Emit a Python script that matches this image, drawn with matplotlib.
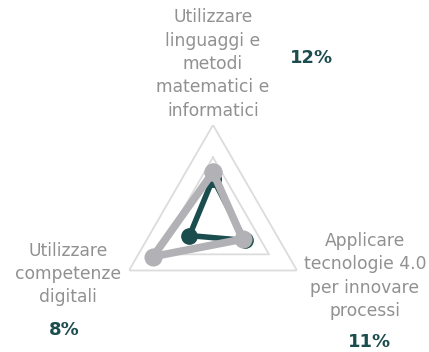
import numpy as np
import matplotlib
matplotlib.use("Agg")
import matplotlib.pyplot as plt

categories = ["Utilizzare\nlinguaggi e\nmetodi\nmatematici e\ninformatici",
              "Applicare\ntecnologie 4.0\nper innovare\nprocessi",
              "Utilizzare\ncompetenze\ndigitali"]
series_dark = [6.7, 5.7, 4.2]
series_gray = [7.7, 5.3, 10.7]
pct_labels = ["12%", "11%", "8%"]
grid_levels = [10, 15]
r_max = 15

W, H = 429, 352
fig = plt.figure(figsize=(W / 100, H / 100), dpi=100)
fig.patch.set_facecolor("white")

cx, cy, R = 213, 222, 97
ax = fig.add_axes([(cx - R) / W, (H - cy - R) / H, 2 * R / W, 2 * R / H], projection="polar")
ax.set_theta_offset(np.pi / 2)
ax.set_theta_direction(-1)
ax.set_ylim(0, r_max)
ax.grid(False)
ax.spines["polar"].set_visible(False)
ax.set_xticks([])
ax.set_yticks([])
ax.patch.set_alpha(0)

n = len(categories)
ang = np.linspace(0, 2 * np.pi, n, endpoint=False)
ang_c = np.append(ang, ang[0])

for g in grid_levels:
    ax.plot(ang_c, [g] * (n + 1), color="#dcdcdc", lw=1.3, zorder=1)

dark = "#1b4d4e"
gray = "#b2b2b6"
ax.plot(ang_c, series_dark + series_dark[:1], color=dark, lw=4, marker="o", ms=11,
        solid_joinstyle="round", zorder=2, clip_on=False)
ax.plot(ang_c, series_gray + series_gray[:1], color=gray, lw=5.5, marker="o", ms=12,
        solid_joinstyle="round", zorder=3, clip_on=False)

txt_color = "#919191"
fs = 12.3
ls = 1.38
fig.text(213 / W, 1 - 64 / H, categories[0], ha="center", va="center", color=txt_color,
         fontsize=fs, linespacing=ls)
fig.text(365 / W, 1 - 276 / H, categories[1], ha="center", va="center", color=txt_color,
         fontsize=fs, linespacing=ls)
fig.text(68 / W, 1 - 274 / H, categories[2], ha="center", va="center", color=txt_color,
         fontsize=fs, linespacing=ls)

pfs = 13
fig.text(311 / W, 1 - 58 / H, pct_labels[0], ha="center", va="center", color=dark,
         fontsize=pfs, fontweight="bold")
fig.text(370 / W, 1 - 342 / H, pct_labels[1], ha="center", va="center", color=dark,
         fontsize=pfs, fontweight="bold")
fig.text(64 / W, 1 - 330 / H, pct_labels[2], ha="center", va="center", color=dark,
         fontsize=pfs, fontweight="bold")

fig.savefig("out.png", dpi=100, facecolor="white")
